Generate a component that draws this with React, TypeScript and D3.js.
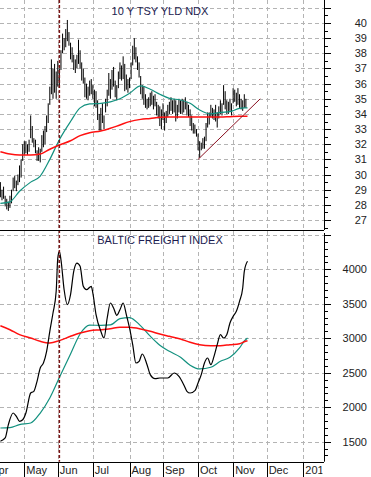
import React from 'react';
import * as d3 from 'd3';

// 10Y treasury yield index (x10), daily high/low from day index 7 (weekdays since Apr 1 2009)
const yldStart = 7;
const yldHigh = [
  29.5, 29.0, 29.2, 28.6, 28.4, 28.2, 28.6, 29.0,
  29.8, 29.9, 29.6, 30.0, 30.6, 31.0, 32.0, 32.2, 32.2, 32.0, 32.3, 33.9, 33.2, 32.4, 32.3,
  31.6, 31.8, 31.7, 32.6, 32.9, 33.2, 33.9, 34.7, 35.8, 37.6, 37.0, 37.3, 36.8, 37.5, 37.0,
  38.2, 39.3, 39.0, 39.6, 40.2, 39.4, 38.7, 38.4, 37.9, 37.6, 37.9, 38.9, 38.2, 37.4, 37.0,
  36.4, 36.0, 35.8, 36.2, 36.3, 35.9, 35.6, 35.5, 34.9, 34.0, 34.4, 34.7, 33.9, 35.0, 35.6,
  36.7, 36.3, 36.9, 37.1, 36.2, 35.9, 36.8, 37.4, 37.2, 37.8, 37.3, 36.6, 36.3, 36.4, 37.4,
  38.5, 39.0, 38.4, 37.8, 37.4, 36.5, 35.9, 35.8, 35.3, 35.0, 35.1, 35.4, 35.5, 35.2, 35.3,
  34.8, 34.6, 34.5, 34.3, 34.7, 34.1, 34.2, 34.6, 34.8, 35.1, 34.9, 35.0, 34.9, 34.6, 35.0,
  34.9, 35.0, 34.9, 35.1, 34.8, 34.6, 34.3, 33.9, 33.4, 33.3, 33.0, 32.7, 32.2, 32.1, 32.4,
  32.5, 33.4, 34.1, 34.1, 34.6, 34.4, 34.3, 34.6, 34.1, 34.5, 34.9, 34.7, 35.9, 35.5, 34.9,
  34.8, 35.0, 34.7, 35.7, 35.6, 35.4, 35.7, 35.3, 35.0, 34.9, 35.3, 35.0,
];
const yldLow = [
  28.5, 28.3, 28.4, 27.9, 27.7, 27.6, 27.8, 28.1,
  28.9, 29.1, 28.9, 29.3, 29.5, 29.8, 30.9, 31.3, 31.4, 31.3, 31.5, 32.4, 32.1, 31.8, 31.4,
  30.9, 30.9, 30.8, 31.5, 31.8, 32.0, 32.8, 33.4, 34.6, 35.3, 35.0, 35.4, 35.0, 35.8, 35.9,
  36.9, 38.0, 38.2, 38.4, 38.8, 38.5, 37.6, 37.4, 36.9, 36.7, 37.0, 37.3, 37.0, 36.2, 36.0,
  35.1, 35.0, 34.9, 35.2, 35.3, 35.0, 34.5, 34.4, 33.6, 32.9, 32.9, 33.4, 33.0, 34.1, 34.5,
  35.2, 35.0, 35.6, 35.8, 35.1, 34.9, 35.7, 36.3, 36.2, 36.3, 35.5, 35.6, 35.4, 35.7, 36.3,
  37.2, 37.6, 37.4, 36.9, 36.4, 35.3, 35.0, 34.6, 34.4, 34.3, 34.4, 34.5, 34.6, 34.3, 34.5,
  33.9, 33.7, 33.2, 33.0, 33.6, 32.9, 33.4, 33.8, 34.0, 34.2, 34.0, 34.1, 33.5, 33.7, 34.1,
  34.0, 34.0, 34.1, 34.3, 33.9, 33.8, 33.2, 32.9, 32.7, 32.7, 32.5, 31.6, 31.1, 31.6, 31.7,
  31.7, 32.2, 33.1, 33.3, 33.8, 33.7, 33.6, 33.5, 33.1, 33.7, 34.0, 33.9, 34.6, 34.3, 34.0,
  34.0, 34.2, 33.9, 34.7, 34.8, 34.5, 34.6, 34.4, 34.3, 34.2, 34.4, 34.4,
];

// moving averages, sampled at these day indices
const maDays = [7, 13, 19, 26, 32, 38, 44, 51, 57, 63, 70, 76, 82, 88, 95, 101, 107, 113, 120, 126, 132, 139, 145, 151, 157, 160, 162];
const yldMaShort = [28.1, 28.2, 28.9, 29.5, 29.9, 31.0, 32.3, 33.5, 34.4, 34.66, 34.7, 34.8, 35.0, 35.36, 35.85, 35.63, 35.3, 35.03, 34.92, 34.7, 34.26, 34.0, 34.1, 34.15, 34.37, 34.4, 34.4];
const yldMaLong = [31.5, 31.35, 31.29, 31.29, 31.35, 31.67, 31.95, 32.23, 32.57, 32.76, 32.87, 33.05, 33.27, 33.49, 33.64, 33.7, 33.78, 33.8, 33.8, 33.8, 33.8, 33.8, 33.8, 33.82, 33.84, 33.84, 33.84];
const bdiMaShort = [1699, 1704, 1747, 1771, 1916, 2134, 2430, 2772, 3062, 3190, 3188, 3194, 3285, 3300, 3180, 3030, 2900, 2811, 2725, 2610, 2555, 2580, 2666, 2725, 2860, 2960, 3004];
const bdiMaLong = [3182, 3124, 3052, 3004, 2956, 2931, 2966, 3028, 3076, 3110, 3124, 3139, 3160, 3158, 3134, 3101, 3062, 3028, 2989, 2941, 2907, 2893, 2893, 2907, 2921, 2950, 2965];

// Baltic Dry Index
const bdiDays = [7, 10, 12, 15, 17, 19, 21, 23, 26, 28, 30, 32, 34, 36, 38, 40, 42, 43, 44, 45, 47, 49, 51, 53, 55, 57, 59, 61, 64, 65, 67, 70, 72, 74, 76, 78, 80, 82, 84, 86, 88, 90, 92, 94, 96, 99, 101, 104, 107, 112, 116, 119, 122, 124, 126, 129, 131, 133, 135, 137, 139, 141, 143, 145, 147, 149, 151, 153, 155, 157, 159, 160, 162];
const bdiValues = [1506, 1554, 1747, 1916, 1868, 1796, 1819, 1916, 2206, 2231, 2376, 2569, 2641, 2811, 3101, 3366, 3681, 4164, 4261, 4139, 3700, 3487, 3632, 3971, 4091, 4043, 3753, 3704, 3753, 3656, 3342, 3101, 3004, 3294, 3511, 3439, 3333, 3414, 3511, 3342, 3149, 2907, 2641, 2665, 2772, 2617, 2472, 2414, 2424, 2424, 2496, 2448, 2327, 2231, 2206, 2240, 2351, 2472, 2641, 2714, 2617, 2738, 2907, 3052, 3004, 3052, 3222, 3318, 3391, 3536, 3729, 3971, 4116];

const trendDays = [131, 170];
const trendValues = [31.0, 35.0];
const markerDay = 44;

const yldTicks = d3.range(27, 41);
const bdiTicks = [1500, 2000, 2500, 3000, 3500, 4000];

const W = 371;
const H = 477;
const right = 324;
const topBottom = 230;
const axisY = 461.7;
const font = "'Liberation Sans', Arial, sans-serif";

export default function App() {
  const days = d3
    .timeDay.range(new Date(2009, 3, 1), new Date(2010, 0, 20))
    .filter((d) => d.getDay() !== 0 && d.getDay() !== 6);
  const monthStarts = days
    .map((d, i) => ({ d, i }))
    .filter(({ d, i }) => i === 0 || d.getMonth() !== days[i - 1].getMonth());

  const x = d3.scaleLinear().domain([22, 197]).range([24.3, 303.3]);
  const yTop = d3.scaleLinear().domain([27, 40]).range([220, 23]);
  const yBot = d3.scaleLinear().domain([1500, 4000]).range([441.7, 269.3]);

  const lineTop = d3
    .line<number>()
    .x((_, i) => x(maDays[i]))
    .y((v) => yTop(v))
    .curve(d3.curveMonotoneX);
  const lineBot = d3
    .line<number>()
    .x((_, i) => x(maDays[i]))
    .y((v) => yBot(v))
    .curve(d3.curveMonotoneX);
  const bdiLine = d3
    .line<number>()
    .x((_, i) => x(bdiDays[i]))
    .y((v) => yBot(v))
    .curve(d3.curveMonotoneX);

  const grid = '#b4b4b4';
  const teal = '#13917f';
  const red = '#ff1010';

  const topMinor = d3.range(26.5, 42, 0.5).filter((v) => yTop(v) > 1 && yTop(v) < topBottom - 1);
  const botMinor = d3.range(1100, 4900, 100).filter((v) => yBot(v) > topBottom + 2 && yBot(v) < axisY - 1);

  return (
    <svg width={W} height={H} style={{ position: 'absolute', left: 0, top: 0, background: '#fff' }} fontFamily={font}>
      <defs>
        <clipPath id="clipTop">
          <rect x={0} y={0} width={right} height={topBottom} />
        </clipPath>
        <clipPath id="clipBot">
          <rect x={0} y={topBottom} width={right} height={axisY - topBottom} />
        </clipPath>
        <clipPath id="clipAxis">
          <rect x={0} y={axisY} width={right - 1.5} height={H - axisY} />
        </clipPath>
      </defs>

      {/* grid */}
      <g clipPath="url(#clipTop)" stroke={grid} strokeDasharray="4,3" strokeWidth={1}>
        {d3.range(26, 42).map((v) => (
          <line key={v} x1={0} x2={right} y1={Math.round(yTop(v)) + 0.5} y2={Math.round(yTop(v)) + 0.5} />
        ))}
      </g>
      <g clipPath="url(#clipBot)" stroke={grid} strokeDasharray="4,3" strokeWidth={1}>
        {d3.range(1000, 5000, 500).map((v) => (
          <line key={v} x1={0} x2={right} y1={Math.round(yBot(v)) + 0.5} y2={Math.round(yBot(v)) + 0.5} />
        ))}
      </g>
      <g stroke={grid} strokeDasharray="4,3" strokeWidth={1}>
        {monthStarts.map(({ i }) => (
          <line key={i} x1={Math.round(x(i)) + 0.5} x2={Math.round(x(i)) + 0.5} y1={0} y2={axisY} />
        ))}
      </g>

      {/* top panel */}
      <g clipPath="url(#clipTop)">
        <g stroke="#000" strokeWidth={1}>
          {yldHigh.map((h, k) => (
            <line key={k} x1={x(yldStart + k)} x2={x(yldStart + k)} y1={yTop(h)} y2={yTop(yldLow[k])} />
          ))}
        </g>
        <path d={lineTop(yldMaShort) ?? ''} fill="none" stroke={teal} strokeWidth={1.2} />
        <path d={lineTop(yldMaLong) ?? ''} fill="none" stroke={red} strokeWidth={1.5} />
        <line
          x1={x(trendDays[0])}
          y1={yTop(trendValues[0])}
          x2={x(trendDays[1])}
          y2={yTop(trendValues[1])}
          stroke="#8a1020"
          strokeWidth={1}
        />
        <text x={160} y={15} textAnchor="middle" fontSize={11} fill="#1c1c50">
          10 Y TSY YLD NDX
        </text>
      </g>

      {/* bottom panel */}
      <g clipPath="url(#clipBot)">
        <path d={lineBot(bdiMaShort) ?? ''} fill="none" stroke={teal} strokeWidth={1.2} />
        <path d={lineBot(bdiMaLong) ?? ''} fill="none" stroke={red} strokeWidth={1.5} />
        <path d={bdiLine(bdiValues) ?? ''} fill="none" stroke="#000" strokeWidth={1.2} />
        <text x={160} y={244} textAnchor="middle" fontSize={11} fill="#1c1c50">
          BALTIC FREIGHT INDEX
        </text>
      </g>

      {/* event marker */}
      <line
        x1={x(markerDay)}
        x2={x(markerDay)}
        y1={0}
        y2={axisY}
        stroke="#7a1414"
        strokeWidth={1.5}
        strokeDasharray="3,2"
      />

      {/* frame */}
      <line x1={0} x2={right} y1={topBottom + 0.5} y2={topBottom + 0.5} stroke="#000" />
      <line x1={0} x2={right} y1={Math.round(axisY) + 0.5} y2={Math.round(axisY) + 0.5} stroke="#000" />
      <line x1={right + 0.5} x2={right + 0.5} y1={0} y2={topBottom} stroke="#000" />
      <line x1={right + 0.5} x2={right + 0.5} y1={topBottom + 3} y2={axisY} stroke="#000" />

      {/* right axes */}
      <g stroke="#000">
        {topMinor.map((v) => (
          <line key={v} x1={right} x2={right + (Number.isInteger(v) ? 7 : 4)} y1={Math.round(yTop(v)) + 0.5} y2={Math.round(yTop(v)) + 0.5} />
        ))}
        {botMinor.map((v) => (
          <line key={v} x1={right} x2={right + (v % 500 === 0 ? 7 : 4)} y1={Math.round(yBot(v)) + 0.5} y2={Math.round(yBot(v)) + 0.5} />
        ))}
      </g>
      <g fontSize={11} fill="#222" textAnchor="end">
        {yldTicks.map((v) => (
          <text key={v} x={367} y={yTop(v) + 4}>
            {v}
          </text>
        ))}
        {bdiTicks.map((v) => (
          <text key={v} x={367} y={yBot(v) + 4}>
            {v}
          </text>
        ))}
      </g>

      {/* month axis */}
      <g clipPath="url(#clipAxis)">
        {monthStarts.map(({ d, i }) => (
          <g key={i}>
            <line x1={Math.round(x(i)) + 0.5} x2={Math.round(x(i)) + 0.5} y1={axisY} y2={H} stroke="#000" />
            <text x={x(i) + 2} y={474} fontSize={11} fill="#222">
              {d.getMonth() === 0 ? d3.timeFormat('%Y')(d) : d3.timeFormat('%b')(d)}
            </text>
          </g>
        ))}
      </g>
    </svg>
  );
}
